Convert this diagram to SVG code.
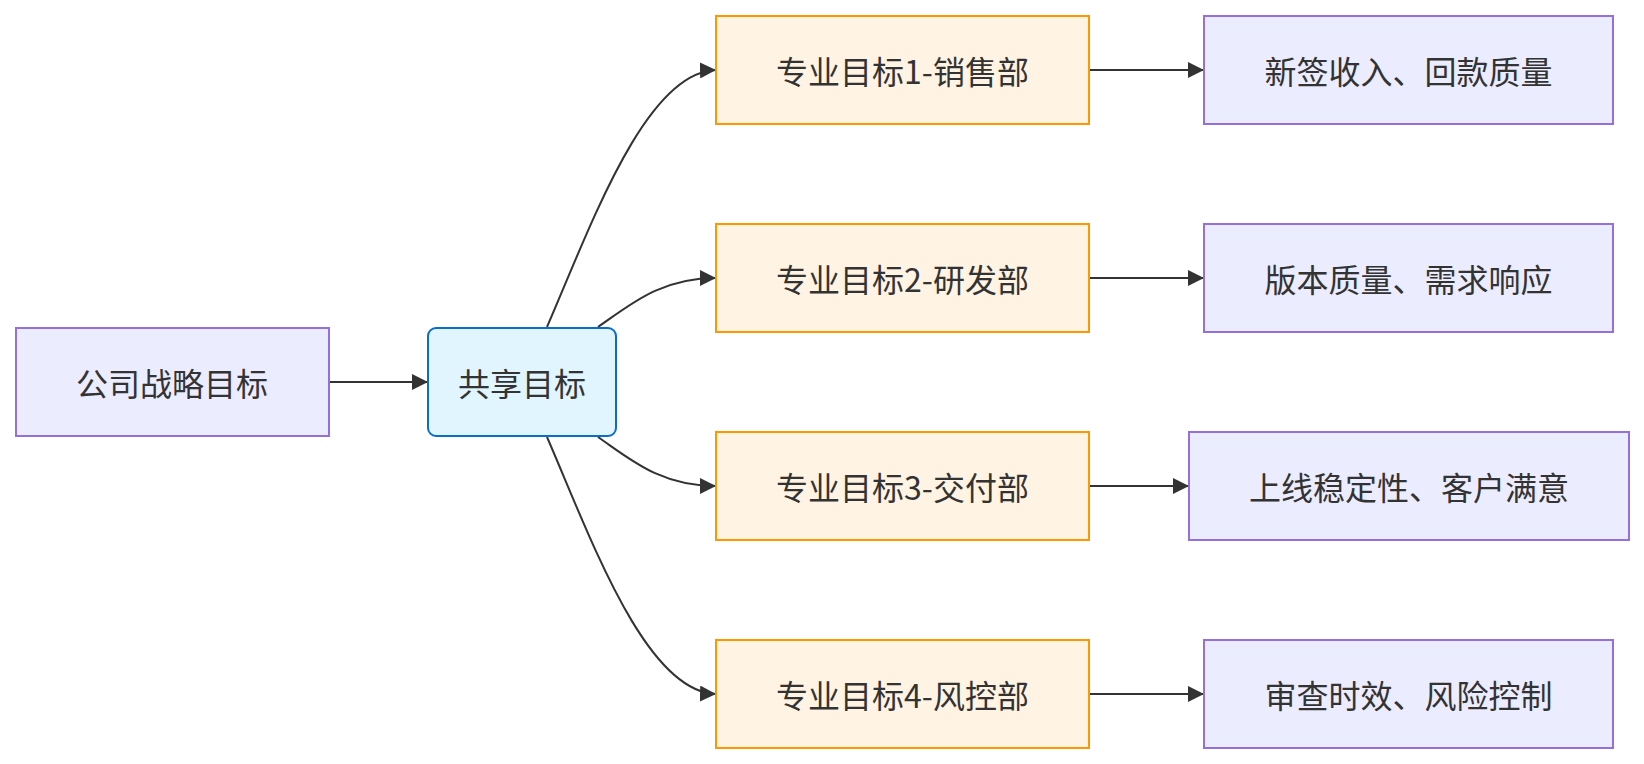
<svg xmlns="http://www.w3.org/2000/svg" width="1644" height="764" viewBox="0 0 1644 764">
<defs>
<style>
.n rect{stroke-width:2}
.purple rect{fill:#ececff;stroke:#9370db}
.orange rect{fill:#fff3e3;stroke:#ff9800}
.blue rect{fill:#e1f5fe;stroke:#0a6ccb}
text{font-family:"Noto Sans CJK SC","Noto Sans",sans-serif;font-size:32px;fill:#333;text-anchor:middle;dominant-baseline:central}
.edges path{fill:none;stroke:#333;stroke-width:2;marker-end:url(#arr)}
</style>
<marker id="arr" viewBox="0 0 10 10" refX="10" refY="5" markerUnits="userSpaceOnUse" markerWidth="16" markerHeight="16" orient="auto">
<path d="M0,0 L10,5 L0,10 z" fill="#333"/>
</marker>
</defs>
<rect width="1644" height="764" fill="#fff"/>
<g class="edges">
<path d="M328,382 L428,382"/>
<path d="M547,327 C590,228 645,72 716,70"/>
<path d="M598,327 C630,305 660,278 716,278"/>
<path d="M598,437 C630,459 660,486 716,486"/>
<path d="M547,437 C590,536 645,692 716,694"/>
<path d="M1089,70 L1204,70"/>
<path d="M1089,278 L1204,278"/>
<path d="M1089,486 L1189,486"/>
<path d="M1089,694 L1204,694"/>
</g>
<g id="A" class="n purple"><rect x="16" y="328" width="313" height="108"/><text x="172" y="382">公司战略目标</text></g>
<g id="B" class="n blue"><rect x="428" y="328" width="188" height="108" rx="8"/><text x="522" y="382">共享目标</text></g>
<g id="C1" class="n orange"><rect x="716" y="16" width="373" height="108"/><text x="902.5" y="70">专业目标1-销售部</text></g>
<g id="C2" class="n orange"><rect x="716" y="224" width="373" height="108"/><text x="902.5" y="278">专业目标2-研发部</text></g>
<g id="C3" class="n orange"><rect x="716" y="432" width="373" height="108"/><text x="902.5" y="486">专业目标3-交付部</text></g>
<g id="C4" class="n orange"><rect x="716" y="640" width="373" height="108"/><text x="902.5" y="694">专业目标4-风控部</text></g>
<g id="D1" class="n purple"><rect x="1204" y="16" width="409" height="108"/><text x="1408.5" y="70">新签收入、回款质量</text></g>
<g id="D2" class="n purple"><rect x="1204" y="224" width="409" height="108"/><text x="1408.5" y="278">版本质量、需求响应</text></g>
<g id="D3" class="n purple"><rect x="1189" y="432" width="440" height="108"/><text x="1409" y="486">上线稳定性、客户满意</text></g>
<g id="D4" class="n purple"><rect x="1204" y="640" width="409" height="108"/><text x="1408.5" y="694">审查时效、风险控制</text></g>
</svg>
